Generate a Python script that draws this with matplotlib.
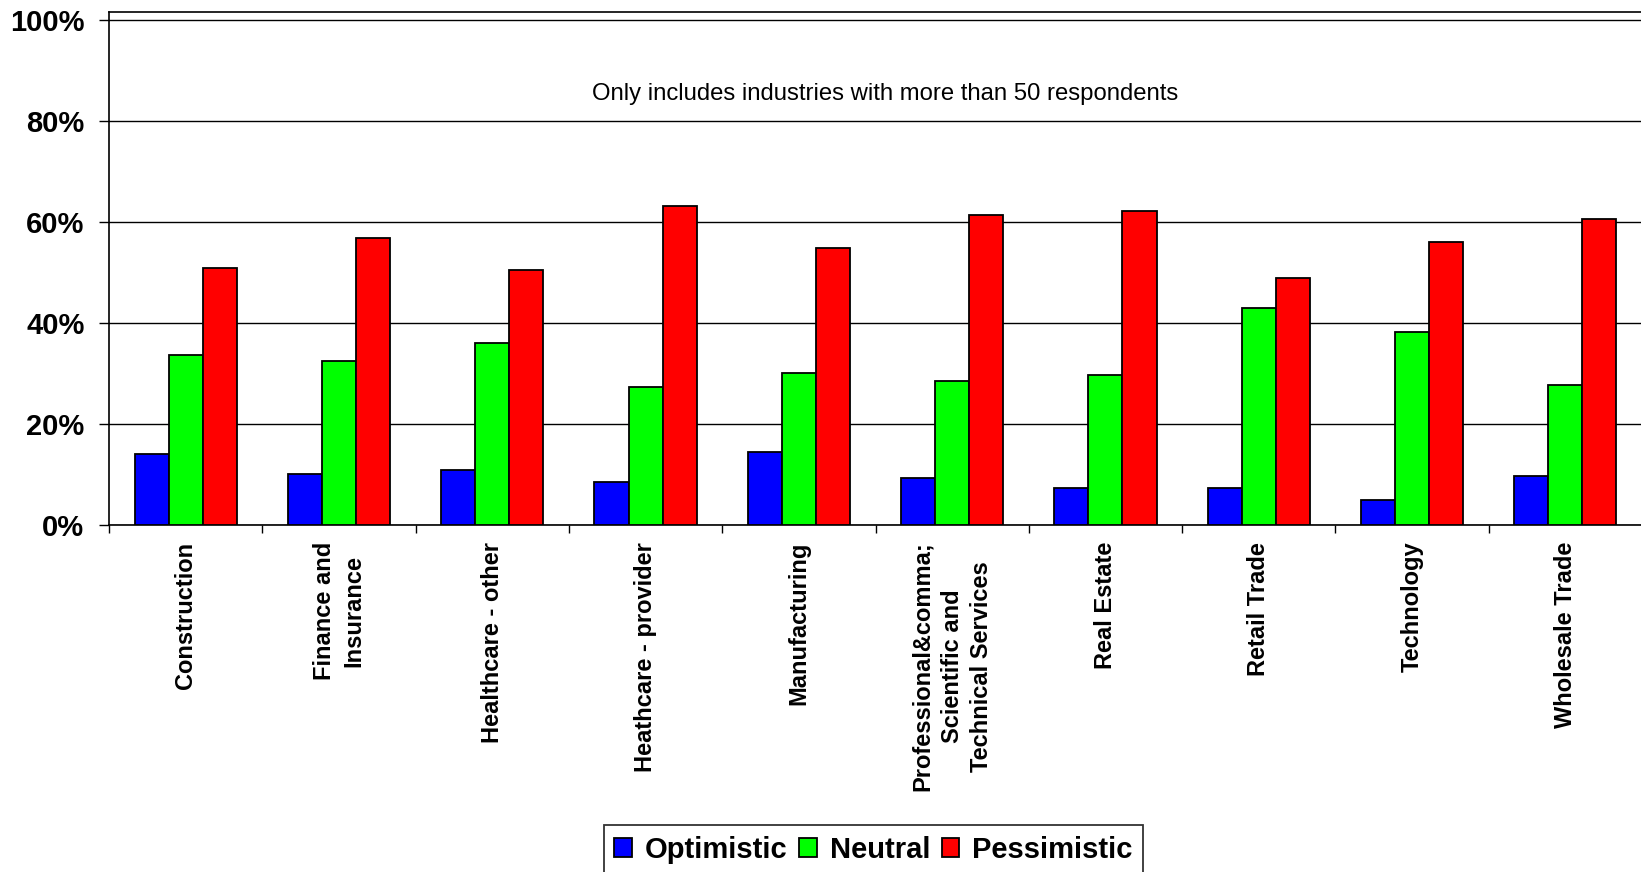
import numpy as np
import matplotlib.pyplot as plt
from matplotlib.ticker import FixedLocator

plt.rcParams['font.family'] = ['Liberation Sans', 'DejaVu Sans']

industries = ['Construction', 'Finance and\nInsurance', 'Healthcare - other',
              'Heathcare - provider', 'Manufacturing',
              'Professional&comma;\nScientific and\nTechnical Services',
              'Real Estate', 'Retail Trade', 'Technology', 'Wholesale Trade']
optimistic = [14.1, 10.1, 10.9, 8.5, 14.4, 9.4, 7.4, 7.4, 5.0, 9.7]
neutral = [33.7, 32.5, 36.0, 27.4, 30.1, 28.6, 29.8, 43.1, 38.3, 27.8]
pessimistic = [50.9, 56.9, 50.5, 63.2, 54.9, 61.5, 62.3, 49.0, 56.1, 60.7]
series_names = ['Optimistic', 'Neutral', 'Pessimistic']
colors = ['#0000ff', '#00ff00', '#ff0000']
note = 'Only includes industries with more than 50 respondents'

W, H = 1641, 872
fig = plt.figure(figsize=(W / 100, H / 100), dpi=100)
ax = fig.add_axes([109 / W, 1 - 525 / H, 1533 / W, (525 - 12.3) / H])

x = np.arange(len(industries))
width = 1 / 4.5
for i, (vals, name, c) in enumerate(zip([optimistic, neutral, pessimistic], series_names, colors)):
    ax.bar(x + (i - 1) * width, vals, width, color=c, edgecolor='black',
           linewidth=1.3, label=name, zorder=3)

ax.set_xlim(-0.5, len(industries) - 0.5)
ax.set_ylim(0, 101.6)

# horizontal gridlines
ax.set_yticks(np.arange(0, 101, 20))
ax.set_yticklabels(['%d%%' % v for v in range(0, 101, 20)], fontsize=21, fontweight='bold')
ax.yaxis.grid(True, color='black', linewidth=1.0)
ax.set_axisbelow(True)
ax.tick_params(axis='y', direction='out', length=7.2, width=1.0, pad=10.5)

# category labels centred, ticks between categories
ax.set_xticks(x)
ax.set_xticklabels(industries, rotation=90, fontsize=17, fontweight='bold',
                   va='top', ha='center', multialignment='center', linespacing=1.38)
ax.tick_params(axis='x', which='major', length=0, pad=12)
ax.xaxis.set_minor_locator(FixedLocator(np.arange(-0.5, len(industries), 1.0)))
ax.tick_params(axis='x', which='minor', direction='out', length=6, width=1.0)

for s in ['left', 'bottom', 'top']:
    ax.spines[s].set_linewidth(1.2)
    ax.spines[s].set_color('black')
ax.spines['right'].set_visible(False)

ax.text(4.56, 85.5, note, fontsize=17.2, ha='center', va='center')

leg = fig.legend(loc='lower center', bbox_to_anchor=(873.5 / W, -0.002), ncol=3,
                 prop={'size': 21, 'weight': 'bold'}, frameon=True, fancybox=False,
                 edgecolor='black', handlelength=0.6, handleheight=0.6,
                 handletextpad=0.45, columnspacing=0.4, borderpad=0.35, borderaxespad=0)
leg.get_frame().set_linewidth(1.3)

fig.savefig('out.png', dpi=100)
